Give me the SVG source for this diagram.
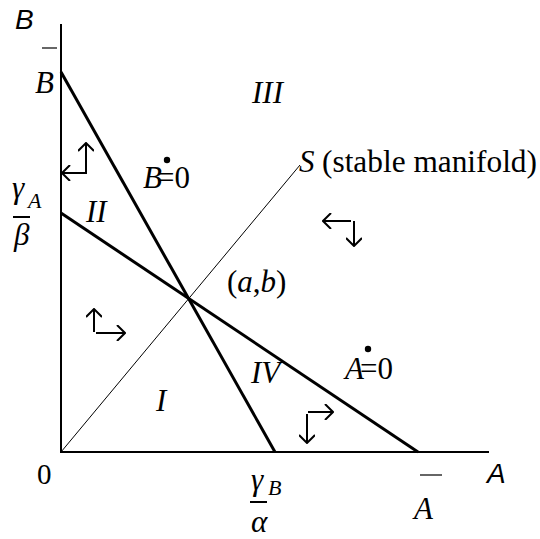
<svg xmlns="http://www.w3.org/2000/svg" width="540" height="539" viewBox="0 0 540 539">
<defs>
<style>
.ax{stroke:#000;stroke-width:2;fill:none}
.thick{stroke:#000;stroke-width:3;fill:none}
.thin{stroke:#000;stroke-width:1;fill:none}
.arr{stroke:#000;stroke-width:2;fill:none;marker-end:url(#ah)}
.bar{stroke:#000;stroke-width:1.2}
.fbar{stroke:#000;stroke-width:2}
.sf{font-family:"Liberation Sans",Arial,sans-serif;font-style:italic;font-size:28px;fill:#000}
.rf{font-family:"Liberation Serif","Times New Roman",serif;font-size:31px;fill:#000}
.it{font-style:italic}
.g{font-family:"Liberation Serif","Times New Roman",serif;font-style:italic;font-size:31px;fill:#000}
.sub{font-family:"Liberation Serif","Times New Roman",serif;font-style:italic;font-size:22px;fill:#000}
</style>
<marker id="ah" viewBox="0 0 16 16" refX="15" refY="8" markerWidth="16" markerHeight="16" markerUnits="userSpaceOnUse" orient="auto">
<path d="M7,0 L15,8 L7,16" fill="none" stroke="#000" stroke-width="2"/>
</marker>
</defs>
<g id="axes">
<line class="ax" x1="61" y1="24" x2="61" y2="452"/>
<line class="ax" x1="60" y1="452" x2="489" y2="452"/>
<text class="sf" x="15" y="29">B</text>
<text class="sf" x="487" y="483">A</text>
<text class="rf" x="37" y="484" style="font-size:29px">0</text>
</g>
<g id="connectors">
<line class="thick" x1="61" y1="72" x2="275" y2="452"/>
<line class="thick" x1="61" y1="213" x2="418" y2="452"/>
<line class="thin" x1="61" y1="452" x2="300" y2="165"/>
</g>
<g id="label-Bbar">
<line class="bar" x1="42" y1="48" x2="57" y2="48"/>
<text class="rf it" x="35" y="93">B</text>
</g>
<g id="label-gammaA-beta">
<text class="g" x="12" y="198">γ</text>
<text class="sub" x="28" y="208">A</text>
<line class="fbar" x1="13" y1="217" x2="30" y2="217"/>
<text class="g" x="14" y="245">β</text>
</g>
<g id="label-gammaB-alpha">
<text class="g" x="251" y="490">γ</text>
<text class="sub" x="268" y="495">B</text>
<line class="fbar" x1="250" y1="502" x2="267" y2="502"/>
<text class="g" x="251" y="532">α</text>
</g>
<g id="label-Abar">
<line class="bar" x1="420" y1="475" x2="442" y2="475"/>
<text class="rf it" x="414" y="519">A</text>
</g>
<g id="region-I">
<text class="rf it" x="156" y="411">I</text>
<line class="arr" x1="94" y1="332" x2="94" y2="309"/>
<line class="arr" x1="96" y1="333" x2="125" y2="333"/>
</g>
<g id="region-II">
<text class="rf it" x="86" y="222">II</text>
<line class="arr" x1="86" y1="174" x2="86" y2="143"/>
<line class="arr" x1="87" y1="173" x2="62" y2="173"/>
</g>
<g id="region-III">
<text class="rf it" x="252" y="103">III</text>
<line class="arr" x1="351" y1="221" x2="323" y2="221"/>
<line class="arr" x1="354" y1="221" x2="354" y2="246"/>
</g>
<g id="region-IV">
<text class="rf it" x="251" y="383">IV</text>
<line class="arr" x1="308" y1="412" x2="333" y2="412"/>
<line class="arr" x1="307" y1="414" x2="307" y2="443"/>
</g>
<g id="label-Bdot">
<text class="rf" x="143" y="188"><tspan class="it">B</tspan><tspan dx="-5">=0</tspan></text>
<circle cx="167" cy="160" r="3.2" fill="#000"/>
</g>
<g id="label-Adot">
<text class="rf" x="345" y="379"><tspan class="it">A</tspan><tspan dx="-4">=0</tspan></text>
<circle cx="368" cy="349" r="3.2" fill="#000"/>
</g>
<g id="label-ab">
<text class="rf" x="227" y="292">(<tspan class="it">a</tspan>,<tspan class="it">b</tspan>)</text>
</g>
<g id="label-S">
<text class="rf" x="299" y="172"><tspan class="it">S</tspan> <tspan x="322" textLength="215" lengthAdjust="spacingAndGlyphs">(stable manifold)</tspan></text>
</g>
</svg>
